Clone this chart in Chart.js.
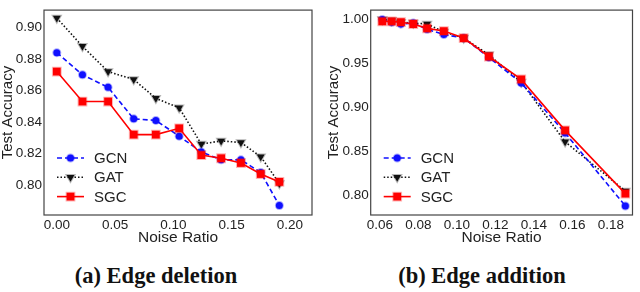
<!DOCTYPE html>
<html>
<head>
<meta charset="utf-8">
<script src="https://cdn.jsdelivr.net/npm/chart.js@4"></script>
<style>
  body { margin: 0; background: #fff; width: 640px; height: 292px; position: relative; overflow: hidden; }
  .box { position: absolute; top: 0; width: 320px; height: 250px; }
  .cap { position: absolute; top: 263px; font: bold 22.5px "Liberation Serif", serif; color: #111; white-space: nowrap; transform: translateX(-50%); }
</style>
</head>
<body>
<div class="box" style="left:0"><canvas id="left"></canvas></div>
<div class="box" style="left:320px"><canvas id="right"></canvas></div>
<div class="cap" style="left:156px">(a) Edge deletion</div>
<div class="cap" style="left:482px">(b) Edge addition</div>
<script>
// (a) edge deletion
const delRatio = [0, 0.022, 0.044, 0.066, 0.085, 0.105, 0.124, 0.141, 0.158, 0.175, 0.191];
const delGCN = [0.884, 0.870, 0.862, 0.842, 0.841, 0.831, 0.821, 0.816, 0.816, 0.808, 0.787];
const delGAT = [0.906, 0.888, 0.872, 0.867, 0.855, 0.849, 0.826, 0.828, 0.827, 0.818, 0.801];
const delSGC = [0.872, 0.853, 0.853, 0.832, 0.832, 0.836, 0.819, 0.817, 0.814, 0.807, 0.802];
const delYTicks = [0.80, 0.82, 0.84, 0.86, 0.88, 0.90];
const delXTicks = [0.00, 0.05, 0.10, 0.15, 0.20];

// (b) edge addition
const addRatio = [0.0612, 0.0661, 0.0709, 0.0773, 0.0845, 0.0932, 0.1035, 0.1166, 0.1334, 0.1562, 0.1875];
const addGCN = [1.000, 0.997, 0.995, 0.996, 0.989, 0.983, 0.979, 0.957, 0.928, 0.871, 0.788];
const addGAT = [1.000, 0.999, 0.997, 0.996, 0.995, 0.986, 0.979, 0.960, 0.929, 0.861, 0.805];
const addSGC = [0.998, 0.998, 0.997, 0.995, 0.990, 0.987, 0.979, 0.958, 0.932, 0.874, 0.802];
const addYTicks = [0.80, 0.85, 0.90, 0.95, 1.00];
const addXTicks = [0.06, 0.08, 0.10, 0.12, 0.14, 0.16, 0.18];

const seriesNames = ["GCN", "GAT", "SGC"];

const styles = {
  GCN: { color: "#1010ff", halo: "rgba(16,16,255,0.35)", dash: [5, 3], point: "circle", radius: 3.5, rot: 0, order: 1 },
  GAT: { color: "#111111", halo: "rgba(17,17,17,0.3)", dash: [1.5, 2], point: "triangle", radius: 4.5, rot: 180, order: 2 },
  SGC: { color: "#ff0000", halo: "rgba(255,0,0,0.3)", dash: [], point: "rect", radius: 5.5, rot: 0, order: 0 }
};

const sans = "'Liberation Sans', Arial, sans-serif";

function toPoints(xs, ys) {
  return xs.map((x, i) => ({ x: x, y: ys[i] }));
}

// box round the plot area
const frame = {
  id: "frame",
  afterDatasetsDraw(chart) {
    const a = chart.chartArea, ctx = chart.ctx;
    ctx.save();
    ctx.strokeStyle = "#444";
    ctx.lineWidth = 1.2;
    ctx.strokeRect(a.left, a.top, a.right - a.left, a.bottom - a.top);
    ctx.restore();
  }
};

// legend inside the plot, lower left
const innerLegend = {
  id: "innerLegend",
  afterDraw(chart) {
    const ctx = chart.ctx;
    const a = chart.chartArea;
    ctx.save();
    chart.data.datasets.forEach((ds, i) => {
      const y = 158 + i * 19.3;
      const x0 = a.left + 13;
      ctx.strokeStyle = ds.borderColor;
      ctx.lineWidth = ds.borderWidth;
      ctx.setLineDash(ds.borderDash);
      ctx.beginPath();
      ctx.moveTo(x0, y);
      ctx.lineTo(x0 + 27, y);
      ctx.stroke();
      ctx.setLineDash([]);
      ctx.fillStyle = ds.pointBackgroundColor;
      ctx.strokeStyle = ds.pointBorderColor;
      ctx.lineWidth = ds.pointBorderWidth;
      Chart.helpers.drawPoint(ctx, {
        pointStyle: ds.pointStyle,
        radius: ds.pointRadius,
        borderWidth: ds.pointBorderWidth,
        rotation: ds.pointRotation
      }, x0 + 13.5, y);
      ctx.fillStyle = "#222";
      ctx.font = "15px " + sans;
      ctx.textBaseline = "middle";
      ctx.fillText(ds.label, x0 + 37, y + 1);
    });
    ctx.restore();
  }
};

function buildChart(id, xs, ys, xRange, yRange, xTicks, yTicks, yAxisWidth, padRight, titlePad) {
  const datasets = seriesNames.map((name, i) => {
    const s = styles[name];
    return {
      label: name,
      data: toPoints(xs, ys[i]),
      borderColor: s.color,
      backgroundColor: s.color,
      borderWidth: 1.6,
      borderDash: s.dash,
      pointStyle: s.point,
      pointRadius: s.radius,
      pointRotation: s.rot,
      pointBackgroundColor: s.color,
      pointBorderColor: s.halo,
      pointBorderWidth: 2,
      order: s.order,
      tension: 0
    };
  });

  return new Chart(document.getElementById(id), {
    type: "line",
    data: { datasets: datasets },
    options: {
      responsive: true,
      maintainAspectRatio: false,
      animation: false,
      layout: { padding: { top: 1, right: padRight, left: 0, bottom: 0 } },
      plugins: {
        legend: { display: false },
        tooltip: { enabled: false }
      },
      scales: {
        x: {
          type: "linear",
          min: xRange[0],
          max: xRange[1],
          grid: { display: false, drawTicks: false },
          border: { display: false },
          afterBuildTicks: s => { s.ticks = xTicks.map(v => ({ value: v })); },
          afterFit: s => { s.height = 35; },
          ticks: {
            padding: 2,
            maxRotation: 0,
            color: "#222",
            font: { family: sans, size: 13.5 },
            callback: v => v.toFixed(2)
          },
          title: {
            display: true,
            text: "Noise Ratio",
            color: "#222",
            padding: { top: 0, bottom: 3 },
            font: { family: sans, size: 15.5, lineHeight: 1.2 }
          }
        },
        y: {
          min: yRange[0],
          max: yRange[1],
          grid: { display: false, drawTicks: false },
          border: { display: false },
          afterBuildTicks: s => { s.ticks = yTicks.map(v => ({ value: v })); },
          afterFit: s => { s.width = yAxisWidth; },
          ticks: {
            padding: 2,
            color: "#222",
            font: { family: sans, size: 13.5 },
            callback: v => v.toFixed(2)
          },
          title: {
            display: true,
            text: "Test Accuracy",
            color: "#222",
            padding: { top: titlePad, bottom: 0 },
            font: { family: sans, size: 15, lineHeight: 1 }
          }
        }
      }
    },
    plugins: [frame, innerLegend]
  });
}

buildChart("left", delRatio, [delGCN, delGAT, delSGC],
  [-0.011, 0.219], [0.781, 0.911], delXTicks, delYTicks, 44, 8, 0);
buildChart("right", addRatio, [addGCN, addGAT, addSGC],
  [0.0552, 0.1912], [0.7777, 1.0108], addXTicks, addYTicks, 50.7, 6.7, 6.5);
</script>
</body>
</html>
